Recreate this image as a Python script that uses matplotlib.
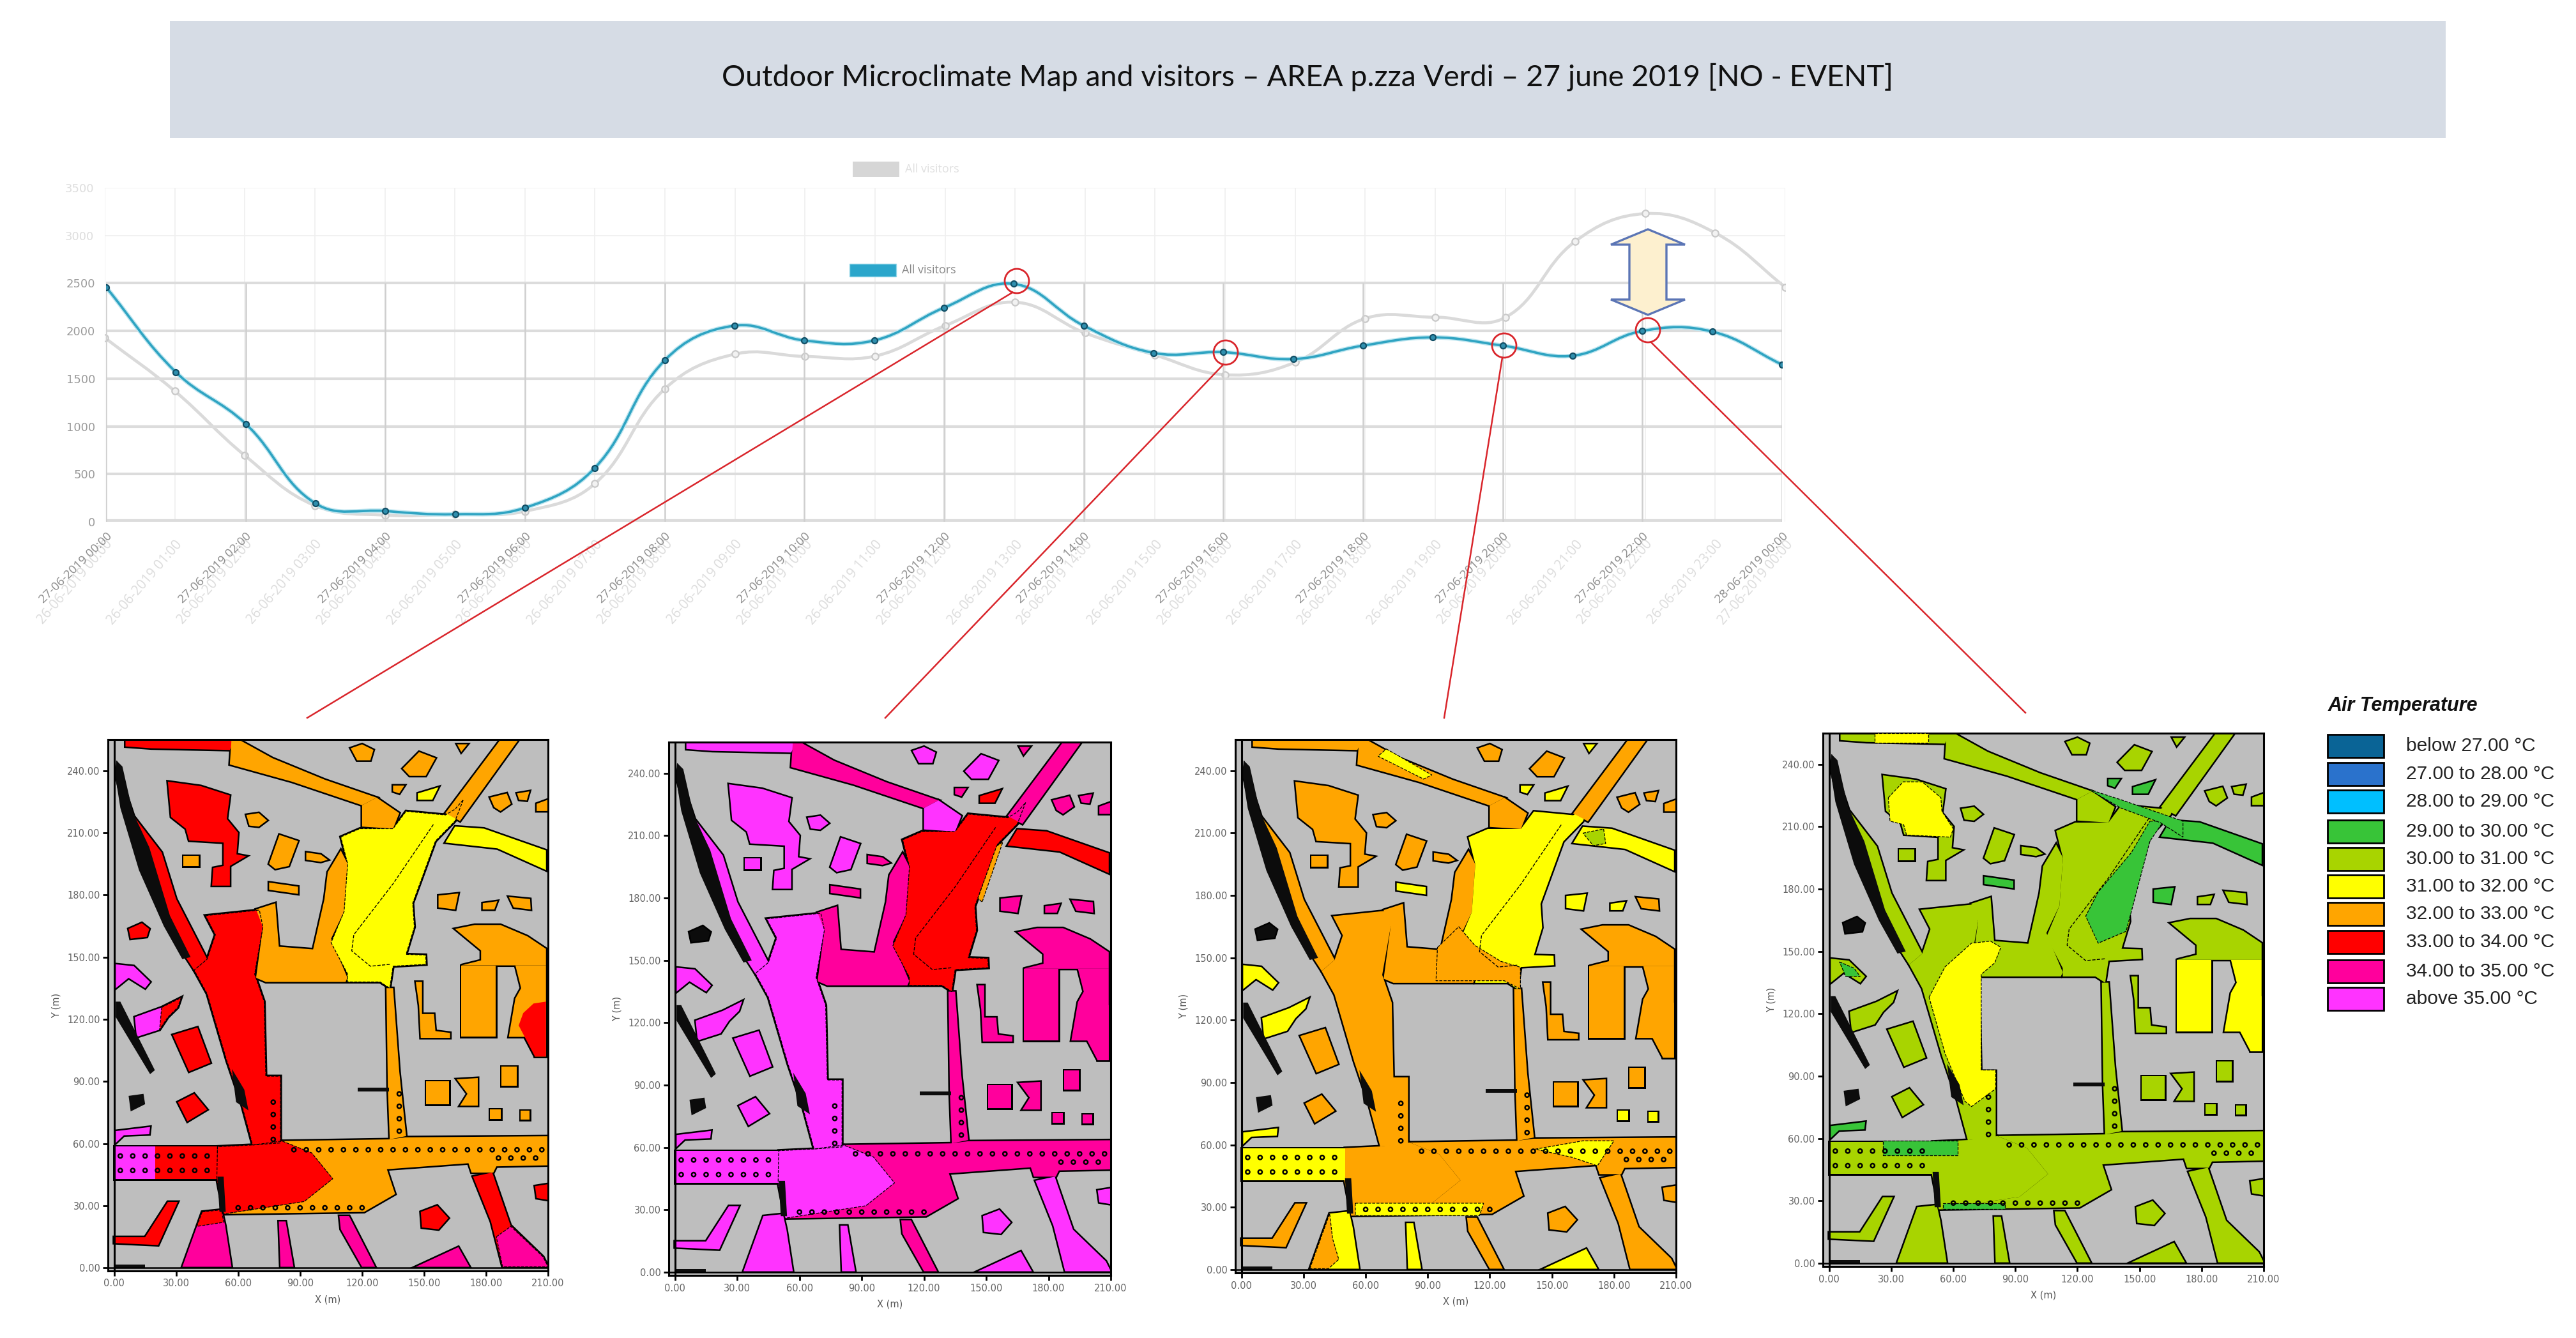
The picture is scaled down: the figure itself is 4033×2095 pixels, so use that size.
import matplotlib
matplotlib.use('Agg')
import matplotlib.pyplot as plt
import numpy as np
from matplotlib.patches import Polygon, Rectangle, Circle, PathPatch
from matplotlib.path import Path

W, H = 4033, 2095

hours = list(range(25))
visitors_27 = [2459, 1568, 1027, 192, 113, 79, 147, 565, 1692, 2055, 1900, 1900, 2243, 2493,
               2055, 1770, 1777, 1705, 1846, 1932, 1846, 1740, 2000, 1993, 1647]
visitors_26 = [1928, 1370, 695, 170, 70, 79, 110, 400, 1394, 1757, 1733, 1736, 2055, 2301,
               1979, 1747, 1541, 1671, 2130, 2144, 2140, 2938, 3229, 3027, 2459]
labels_27 = ['27-06-2019 00:00', '27-06-2019 02:00', '27-06-2019 04:00', '27-06-2019 06:00',
             '27-06-2019 08:00', '27-06-2019 10:00', '27-06-2019 12:00', '27-06-2019 14:00',
             '27-06-2019 16:00', '27-06-2019 18:00', '27-06-2019 20:00', '27-06-2019 22:00',
             '28-06-2019 00:00']
labels_26 = ['26-06-2019 %02d:00' % h for h in range(24)] + ['27-06-2019 00:00']

legend_labels = ['below 27.00 °C', '27.00 to 28.00 °C', '28.00 to 29.00 °C', '29.00 to 30.00 °C',
                 '30.00 to 31.00 °C', '31.00 to 32.00 °C', '32.00 to 33.00 °C', '33.00 to 34.00 °C',
                 '34.00 to 35.00 °C', 'above 35.00 °C']
legend_colors = ['#0a6496', '#2a72cc', '#00bfff', '#38c438', '#a8d400',
                 '#ffff00', '#ffa500', '#ff0000', '#ff009c', '#ff33ff']
CLASS = {'G': '#38c438', 'L': '#a8d400', 'Y': '#ffff00', 'O': '#ffa500',
         'R': '#ff0000', 'P': '#ff009c', 'M': '#ff33ff', 'K': '#0c0c0c'}

# map outlines in metres, same site in all four maps
top_strip = [(5.5, 255), (58.4, 255), (56, 250), (18, 250.8), (5.5, 251.7)]
west_street = [(1.6, 242), (9.5, 218), (23, 200.5), (30, 178), (45, 149), (38.7, 143.7),
               (27.6, 160.8), (16.6, 185.4), (5.5, 217.6), (0.8, 238.5)]
nw_building = [(26, 234.7), (42, 232.5), (56, 228), (54.5, 216.7), (60, 210), (59.2, 199.6), (64, 198.7), (56, 194),
               (56, 184.5), (47.4, 184.5), (48, 193), (53, 194), (53, 205.3), (36.3, 206.3),
               (34.7, 212), (27.6, 217.6)]
red_main = [(44.2, 170), (70.3, 172.7), (72, 164.5), (68, 141.8), (72.6, 128.5), (73.4, 92.5), (80.5, 92.5),
            (80.5, 60.3), (67, 59.3), (61.6, 79.2), (54.5, 100), (45, 132.3), (38.7, 143.7), (45, 149), (49, 160.8)]
orange_east = [(68.7, 173), (78, 176), (79.7, 155), (96.3, 153.7), (101.8, 178), (103.4, 191), (109.7, 201.5),
               (113, 195), (111.3, 172), (105, 158.9), (112.9, 140), (112, 138), (73.4, 138), (68.7, 140), (72, 164.5)]
plaza = [(109.7, 208), (119, 212), (135, 212), (141.3, 220.4), (160.3, 218.6), (165, 221.4), (169, 226),
         (165, 215.7), (155.5, 206), (144.5, 176), (145.3, 164.5), (141.3, 151.3), (150.8, 151), (151, 146.5),
         (135, 145.6), (133.4, 135), (128.7, 138), (112.9, 138), (112.9, 142), (105, 157), (111.3, 172), (113, 195)]
top_street = [(56.8, 255), (61, 254.6), (76.6, 246), (102, 235.6), (127, 227), (120, 223.3), (86, 234.7), (56, 243)]
hook = [(120, 223.3), (127, 227), (138, 219.5), (135, 212), (120, 213)]
ne_avenue = [(187, 255), (195.8, 255), (167.4, 215.7), (160.3, 219.5)]
e_street = [(165, 213), (179, 212), (209, 201.5), (209, 192), (185.5, 202.5), (160.3, 205.3)]
ns_strip = [(131.8, 135), (135, 135), (138, 94.6), (141.3, 63.6), (133.4, 62), (132.5, 86)]
south_red = [(49.7, 43), (53, 26), (92, 32), (105.8, 43), (95.6, 55.5), (81.3, 61.2), (67, 59.3), (50, 58.5)]
south_orange = [(95.6, 55.5), (81.3, 61.2), (133, 62), (141, 63), (210, 63.5), (210, 49.5), (185, 49), (183.5, 46),
                (173, 46), (171.5, 50.5), (132, 47.6), (136, 35.6), (121, 27), (53, 26), (92, 32), (105.8, 43)]
street_w_a = [(0, 43), (20, 43), (20, 58.5), (0, 58.5)]
street_w_b = [(20, 43), (50, 43), (50, 58.5), (20, 58.5)]
e_top = [(165, 163.6), (174.5, 165.5), (187, 165.5), (200, 160), (209, 154), (209, 146), (168, 146), (177.6, 148.4), (177.6, 153.2)]
e_wing_a = [(168, 146), (184.7, 146), (184.7, 111.5), (168, 111.5)]
e_wing_b = [(194.2, 146), (209, 146), (209, 102), (203.7, 102), (203, 111.5), (191, 111.5), (194.2, 130), (197, 135)]
e_red = [(195.8, 117), (198, 123), (203, 127.6), (209, 128.5), (209, 102), (203.7, 102)]
l_bldg = [(146, 138), (149, 138), (149, 122.5), (154.8, 122.5), (155.5, 114.3), (162.6, 113.4), (162.6, 111),
          (148.4, 111), (147.6, 126.6)]
sq_1 = [(151, 90), (162, 90), (162, 79), (151, 79)]
sq_2 = [(165.8, 91), (176, 91.6), (176, 78.3), (167.4, 78.3), (171, 84)]
sq_3 = [(187.5, 97), (194.7, 97), (194.7, 88), (187.5, 88)]
sq_4 = [(182, 76.4), (187, 76.4), (187, 72), (182, 72)]
sq_5 = [(196.6, 75.8), (201, 75.8), (201, 71.7), (196.6, 71.7)]
b_a = [(64, 218.6), (70, 219.5), (74, 216), (70, 213), (65.5, 213.5)]
b_b = [(33.6, 199), (41, 199), (41, 194), (33.6, 194)]
b_c = [(75, 195), (80, 209), (89, 206), (84.5, 194), (78, 192.6)]
b_d = [(93, 200.5), (100, 199.5), (103.4, 197), (100, 196), (93, 197)]
b_e = [(75, 186), (89, 184), (89, 180.5), (75, 182.5)]
b_f = [(114.5, 250.8), (120, 252.7), (125.5, 250), (124, 245), (117.6, 245)]
b_g = [(139.7, 241), (147.6, 249), (155.5, 246), (150.8, 237.5), (143, 237.5)]
b_h = [(166, 252.7), (171, 252.7), (168, 249)]
b_i = [(135, 232.8), (140.5, 232.8), (138, 229), (135, 230)]
b_j = [(147, 229), (157, 232), (154, 226), (147, 226)]
b_k = [(182, 227), (190, 229), (192, 224), (187, 220.5), (184, 222.4)]
b_l = [(195, 229), (201, 230), (199.7, 225.6), (196, 226)]
b_m = [(204.5, 224), (210, 226), (210, 220.5), (204.5, 220.5)]
b_n = [(157, 179.7), (166.6, 180.7), (165, 173), (157, 174)]
b_o = [(178.4, 176), (185.5, 177), (184, 173), (178.4, 173)]
b_p = [(191, 179), (201.3, 178), (201.6, 173), (193.4, 174)]
w_1 = [(7, 163.6), (13.4, 166.4), (17, 163.6), (15.8, 159.8), (8, 158.9)]
w_2 = [(0.8, 146.5), (9.5, 145.6), (17.4, 138), (15, 135), (7, 140), (0.8, 135)]
w_3 = [(10, 121), (23, 125.7), (32.4, 130.4), (30.8, 125.7), (26, 121), (22, 115), (11, 111.5)]
w_4 = [(28.4, 112.4), (40.3, 116), (46.6, 99), (36.3, 94.8)]
w_5 = [(30.8, 80), (38.7, 84), (45, 76.4), (35.5, 70.7)]
w_7 = [(0.8, 66), (17.4, 68), (17, 64.5), (4.7, 64), (0.8, 60.3)]
sw_curve = [(0, 14.8), (15, 14.8), (26, 31.8), (30.8, 31.8), (21.3, 11), (0, 12)]
s_a = [(33, 0.5), (42.6, 27), (52, 28), (53.7, 20.5), (56.8, 0.5)]
s_b = [(79.7, 22.4), (83, 22.4), (86.8, 0.5), (80.5, 0.5)]
s_c = [(109, 25), (113.7, 25), (126.3, 0.5), (120, 0.5), (109.7, 18.6)]
s_d = [(146, 0.5), (166.6, 10), (172, 0.5)]
s_e = [(148.4, 27), (156.3, 30), (161.8, 24), (157, 18.6), (149, 19.5)]
s_f = [(173.7, 44), (183, 46), (191.8, 20.5), (207.6, 5.3), (210, 0.5), (188, 0.5), (182.4, 22.4)]
s_g = [(203.7, 39.4), (210, 40.4), (210, 32.8), (204.5, 33.7)]

# one colour letter per map, left to right
REGIONS = [(top_strip, 'RMOL'), (west_street, 'RMOL'), (nw_building, 'RMOL'), (red_main, 'RMOL'),
           (orange_east, 'OPOL'), (plaza, 'YRYL'), (top_street, 'OPOL'), (hook, 'OMOL'), (ne_avenue, 'OPOL'),
           (e_street, 'YRYG'), (ns_strip, 'OPOL'), (south_orange, 'OPOL'), (south_red, 'RMOL'),
           (street_w_a, 'MMYL'), (street_w_b, 'RMYL'), (e_top, 'OPOL'), (e_wing_a, 'OPOY'), (e_wing_b, 'OPOY'),
           (e_red, 'RPOY'), (l_bldg, 'OPOL'), (sq_1, 'OPOL'), (sq_2, 'OPOL'), (sq_3, 'OPOL'), (sq_4, 'OPYL'),
           (sq_5, 'OPYL'), (b_a, 'OMOL'), (b_b, 'OMOL'), (b_c, 'OMOL'), (b_d, 'OPOL'), (b_e, 'OPYG'),
           (b_f, 'OMOL'), (b_g, 'OMOL'), (b_h, 'OPYL'), (b_i, 'OPYG'), (b_j, 'YRYG'), (b_k, 'OPOL'),
           (b_l, 'OPOL'), (b_m, 'OPOL'), (b_n, 'OPYG'), (b_o, 'OPYL'), (b_p, 'OPOL'), (w_1, 'RKKK'),
           (w_2, 'MMYL'), (w_3, 'MMYL'), (w_4, 'RMOL'), (w_5, 'RMOL'), (w_7, 'MMYG'), (sw_curve, 'RMOL'),
           (s_a, 'PMYL'), (s_b, 'PMYL'), (s_c, 'PPOL'), (s_d, 'PMYL'), (s_e, 'RMOL'), (s_f, 'RMOL'), (s_g, 'RMOL')]

# temperature zones that only one map has
p1_zones = [([(185, 15), (192, 20), (207.6, 5.3), (210, 0.5), (188, 0.5)], 'P'),
            ([(42.6, 27), (52, 28), (53, 22), (40, 20)], 'R'),
            ([(23, 125.7), (32.4, 130.4), (30.8, 125.7), (26, 121), (22, 115)], 'R')]
p2_zones = [([(155, 205), (158, 207), (148, 178), (146, 180)], 'O')]
p3_zones = [([(70, 250.5), (92, 238), (88, 236), (66, 247)], 'Y'),
            ([(55, 32), (117, 32), (115, 26), (55, 26)], 'Y'),
            ([(142, 58), (165, 62), (180, 62), (172, 50), (160, 54)], 'Y'),
            ([(33, 0.5), (42.6, 27), (44, 15), (47, 5), (42, 0.5)], 'O'),
            ([(94.7, 155), (105, 165), (112.8, 156), (125.4, 148.3), (134.8, 145.5), (134.8, 135), (127, 139), (94, 139)], 'O'),
            ([(165, 210), (175, 212), (176, 205), (170, 204)], 'L')]
p4_zones = [([(48.3, 128), (56, 142.6), (68.8, 154), (78, 155), (83, 152), (80, 144.5), (73.5, 139), (73.5, 93),
              (80.5, 93), (80.5, 84), (68.8, 75.4), (65.6, 78), (56, 101)], 'Y'),
            ([(28.6, 224), (35.8, 231.6), (45, 231.6), (54, 224), (54.5, 217.5), (60, 209), (58.6, 205),
              (37.4, 206), (36, 211), (29.4, 212.7)], 'Y'),
            ([(22, 255), (48, 255), (48, 250.5), (22, 250.5)], 'Y'),
            ([(155, 212.7), (161.6, 212.7), (155, 203), (146, 169), (143.5, 159.7), (130, 154), (124, 167),
              (130, 178.6), (146, 197.5)], 'G'),
            ([(125.4, 228), (141, 223), (171, 212.7), (171, 205), (160, 212), (141, 219)], 'G'),
            ([(26, 52), (62, 52), (62, 59), (26, 59)], 'G'),
            ([(55, 26), (85, 26), (85, 29), (55, 29)], 'G'),
            ([(5, 145), (12, 142), (15, 138), (8, 138)], 'G')]
panel_zones = [p1_zones, p2_zones, p3_zones, p4_zones]

dark_patches = [[(1, 245), (4, 242), (9, 220), (17, 203), (27, 170), (37, 150), (33, 149), (24, 165), (12, 192), (3, 222), (0.5, 238)],
                [(0.8, 128.5), (3, 128.5), (19.7, 95.4), (17.4, 93.5), (0.8, 121)],
                [(7, 83), (14.2, 84), (15, 79), (8, 75.5)],
                [(57, 96), (63, 86), (65, 76), (59, 80)],
                [(50, 44), (53, 44), (54, 27), (51, 27)],
                [(118, 87), (133, 87), (133, 85), (118, 85)],
                [(0, 1.5), (15, 1.5), (15, 0), (0, 0)]]
plaza_contour_x = [154.5, 135, 116, 115, 124, 133.4]
plaza_contour_y = [214, 185.4, 160.8, 153, 145.6, 146.5]
trees_e_x = [87, 93, 99, 105, 111, 117, 123, 129, 135, 141, 147, 153, 159, 165, 171, 177, 183, 189, 195, 201, 207]
trees_e_y = [57, 57, 57, 57, 57, 57, 57, 57, 57, 57, 57, 57, 57, 57, 57, 57, 57, 57, 57, 57, 57]
trees_s_x = [60, 66, 72, 78, 84, 90, 96, 102, 108, 114, 120]
trees_s_y = [29, 29, 29, 29, 29, 29, 29, 29, 29, 29, 29]
trees_n_x = [77, 77, 77, 77, 138, 138, 138, 138, 186, 192, 198, 204]
trees_n_y = [62, 68, 74, 80, 66, 72, 78, 84, 53, 53, 53, 53]
trees_w_x = [3, 9, 15, 21, 27, 33, 39, 45, 3, 9, 15, 21, 27, 33, 39, 45]
trees_w_y = [54, 54, 54, 54, 54, 54, 54, 54, 47, 47, 47, 47, 47, 47, 47, 47]

# pixel boxes: left, right, top, bottom
map_boxes = [(169, 858, 1158, 1990), (1047, 1739, 1162, 1997), (1934, 2624, 1158, 1993), (2854, 3544, 1148, 1983)]
blue_box = (166, 2790, 294, 817)
grey_box = (164, 2795, 294, 817)

fig = plt.figure(figsize=(W / 100, H / 100), dpi=100, facecolor='white')


def add_box(box):
    l, r, t, b = box
    return fig.add_axes([l / W, 1 - b / H, (r - l) / W, (b - t) / H])


def smooth_curve(ax, xs, ys, tension=0.4):
    # same bezier the web chart uses, worked out in screen space
    pts = ax.transData.transform(np.column_stack([xs, ys]))
    verts = [pts[0]]
    codes = [Path.MOVETO]
    n = len(pts)
    for i in range(n - 1):
        p0 = pts[max(i - 1, 0)]
        p1 = pts[i]
        p2 = pts[i + 1]
        p3 = pts[min(i + 2, n - 1)]
        d01 = np.hypot(*(p1 - p0))
        d12 = np.hypot(*(p2 - p1))
        d23 = np.hypot(*(p3 - p2))
        fa = tension * d12 / (d01 + d12) if d01 + d12 > 0 else 0
        fb = tension * d12 / (d12 + d23) if d12 + d23 > 0 else 0
        verts.append(p1 + fa * (p2 - p0))
        verts.append(p2 - fb * (p3 - p1))
        verts.append(p2)
        codes.extend([Path.CURVE4, Path.CURVE4, Path.CURVE4])
    data = ax.transData.inverted().transform(np.array(verts))
    return Path(data, codes)


# grey chart (day before), sits underneath
ax_g = add_box(grey_box)
ax_g.set_xlim(0, 24)
ax_g.set_ylim(0, 3500)
ax_g.patch.set_alpha(0)
for s in ax_g.spines.values():
    s.set_visible(False)
ax_g.set_xticks(hours)
ax_g.set_xticklabels(labels_26, rotation=49, ha='right', rotation_mode='anchor', fontsize=15,
                     color='#dcdcdc', family='Open Sans')
ax_g.set_yticks([3000, 3500])
ax_g.set_yticklabels(['3000', '3500'], fontsize=13, color='#dddddd')
ax_g.tick_params(axis='y', length=0, pad=12)
ax_g.tick_params(axis='x', length=0, pad=18)
ax_g.grid(color='#efefef', lw=1.2)
ax_g.set_axisbelow(True)
ax_g.add_patch(PathPatch(smooth_curve(ax_g, hours, visitors_26), fc='none', ec='#dadada', lw=3.4, zorder=3))
ax_g.plot(hours, visitors_26, ls='none', marker='o', ms=7.5, mfc='#f2f2f2', mec='#c9c9c9', mew=1.6, zorder=4)

# blue chart on top
ax_b = add_box(blue_box)
ax_b.set_xlim(0, 24)
ax_b.set_ylim(0, 3500)
ax_b.patch.set_alpha(0)
for s in ax_b.spines.values():
    s.set_visible(False)
ax_b.set_xticks(hours[::2])
ax_b.set_xticklabels(labels_27, rotation=44, ha='right', rotation_mode='anchor', fontsize=13.5,
                     color='#8a8a8a', family='Open Sans')
ax_b.set_yticks([0, 500, 1000, 1500, 2000, 2500])
ax_b.set_yticklabels(['0', '500', '1000', '1500', '2000', '2500'], fontsize=13, color='#9a9a9a')
ax_b.tick_params(axis='y', length=0, pad=12)
ax_b.tick_params(axis='x', length=0, pad=10)
ax_b.hlines([500, 1000, 1500, 2000, 2500], 0, 24, color='#dcdcdc', lw=3, zorder=1)
ax_b.hlines([0], 0, 24, color='#dcdcdc', lw=6, zorder=1)
ax_b.vlines(hours[::2], 0, 2500, color='#cfcfcf', lw=1.8, zorder=1)
ax_b.add_patch(PathPatch(smooth_curve(ax_b, hours, visitors_27), fc='none', ec='#bfe6f0', lw=5, zorder=3))
ax_b.add_patch(PathPatch(smooth_curve(ax_b, hours, visitors_27), fc='none', ec='#2fa4c2', lw=2.6, zorder=3))
ax_b.plot(hours, visitors_27, ls='none', marker='o', ms=6.5, mfc='#2f8fae', mec='#124f66', mew=1.6, zorder=4)

# the four maps
for idx, box in enumerate(map_boxes):
    ax = add_box(box)
    ax.set_facecolor('#bebebe')
    ax.set_xlim(-3, 210)
    ax.set_ylim(-1.5, 255)
    for s in ax.spines.values():
        s.set_linewidth(2.2)
    ax.axvline(0, color='black', lw=2.2, zorder=6)
    ax.axhline(0, color='black', lw=1.8, zorder=6)
    # thick black pass first, fills on top: only the outer edge of touching zones stays black
    for verts, codes in REGIONS:
        ax.add_patch(Polygon(verts, closed=True, fc='black', ec='black', lw=3.6, zorder=2))
    for verts, codes in REGIONS:
        ax.add_patch(Polygon(verts, closed=True, fc=CLASS[codes[idx]], ec='none', zorder=2.5))
    if idx < 2:
        for verts in [red_main, south_red, plaza]:
            ax.add_patch(Polygon(verts, closed=True, fc='none', ec='black', lw=0.9, ls='--', zorder=2.6))
    for verts, code in panel_zones[idx]:
        ax.add_patch(Polygon(verts, closed=True, fc=CLASS[code], ec='black', lw=0.9, ls='--', zorder=3))
    for verts in dark_patches:
        ax.add_patch(Polygon(verts, closed=True, fc='#0c0c0c', ec='none', zorder=4))
    ax.plot(plaza_contour_x, plaza_contour_y, color='black', lw=1, ls='--', zorder=4)
    for tx, ty in [(trees_e_x, trees_e_y), (trees_s_x, trees_s_y), (trees_n_x, trees_n_y), (trees_w_x, trees_w_y)]:
        ax.scatter(tx, ty, s=20, marker='o', fc='none', ec='black', lw=1.8, zorder=5)
    ax.set_xticks([0, 30, 60, 90, 120, 150, 180, 210])
    ax.set_xticklabels(['0.00', '30.00', '60.00', '90.00', '120.00', '150.00', '180.00', '210.00'])
    ax.set_yticks([0, 30, 60, 90, 120, 150, 180, 210, 240])
    ax.set_yticklabels(['0.00', '30.00', '60.00', '90.00', '120.00', '150.00', '180.00', '210.00', '240.00'])
    ax.tick_params(length=6, width=2, labelsize=10.5, labelcolor='#666666', pad=3)
    ax.set_xlabel('X (m)', fontsize=10.5, color='#555555', labelpad=7)
    ax.set_ylabel('Y (m)', fontsize=10.5, color='#555555', labelpad=7)

# page level stuff in pixel coordinates
ov = fig.add_axes([0, 0, 1, 1], zorder=10)
ov.set_xlim(0, W)
ov.set_ylim(H, 0)
ov.axis('off')
ov.patch.set_alpha(0)

ov.add_patch(Rectangle((266, 33), 3563, 183, fc='#d6dce5', ec='none'))
ov.text(2047, 121, 'Outdoor Microclimate Map and visitors – AREA p.zza Verdi – 27 june 2019 [NO - EVENT]',
        ha='center', va='center', fontsize=33.5, family='Lato', color='#111111')

# chart legends
ov.add_patch(Rectangle((1335, 253), 73, 24, fc='#d6d6d6', ec='none'))
ov.text(1417, 265, 'All visitors', fontsize=13, va='center', color='#e0e0e0', family='Open Sans')
ov.add_patch(Rectangle((1330, 413), 73, 20, fc='#2ba6cb', ec='#8fd4e6', lw=1))
ov.text(1412, 423, 'All visitors', fontsize=13, va='center', color='#8a8a8a', family='Open Sans')

# red callouts from the chart to the maps
callouts = [((1592, 440), (1585, 458), (481, 1124)), ((1919, 552), (1915, 571), (1386, 1124)),
            ((2355, 541), (2352, 560), (2261, 1124)), ((2580, 517), (2585, 536), (3171, 1116))]
for centre, start, end in callouts:
    ov.add_patch(Circle(centre, 19, fc='none', ec='#d9252b', lw=2))
    ov.plot([start[0], end[0]], [start[1], end[1]], color='#d9252b', lw=1.8)

# up-down block arrow
ov.add_patch(Polygon([(2580, 359), (2638, 383), (2609, 383), (2609, 469), (2638, 469), (2580, 493),
                      (2522, 469), (2551, 469), (2551, 383), (2522, 383)],
                     closed=True, fc='#fdf0cf', ec='#5b75b5', lw=2.4))

# temperature legend
ov.text(3645, 1105, 'Air Temperature', fontsize=22, style='italic', weight='bold', va='center',
        family='Liberation Sans', color='#111111')
legend_tops = [1150, 1194, 1237, 1284, 1327, 1370, 1413, 1457, 1503, 1546]
for top, col, lab in zip(legend_tops, legend_colors, legend_labels):
    ov.add_patch(Rectangle((3644, top), 88, 36, fc=col, ec='black', lw=2))
    ov.text(3767, top + 18, lab, fontsize=21.5, va='center', family='Liberation Sans', color='#222222')

fig.savefig('out.png', dpi=100)
